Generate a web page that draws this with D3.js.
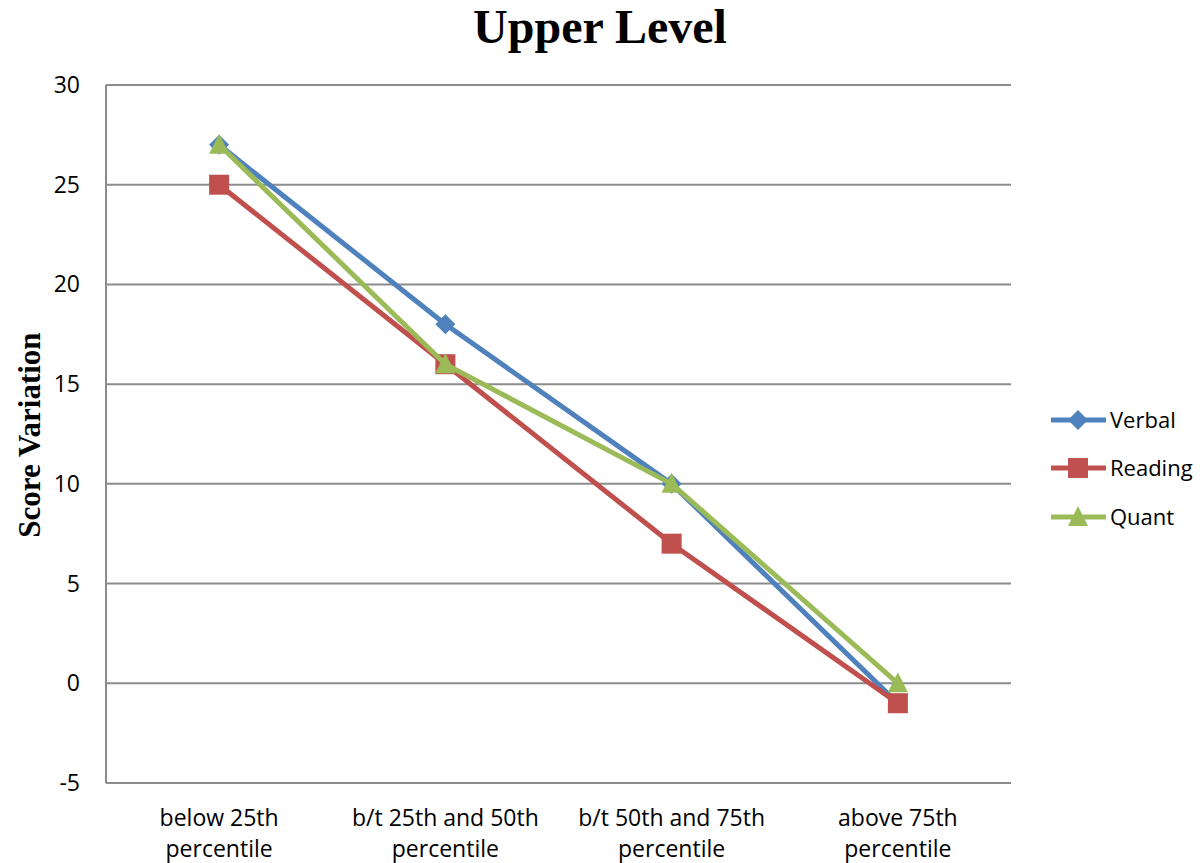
<!DOCTYPE html>
<html><head><meta charset="utf-8">
<script src="https://cdn.jsdelivr.net/npm/d3@7"></script>
<style>body{margin:0;background:#fff}svg{display:block}</style>
</head><body><svg id="c" width="1201" height="863"></svg>
<script>
const categories = [["below 25th","percentile"],["b/t 25th and 50th","percentile"],["b/t 50th and 75th","percentile"],["above 75th","percentile"]];
const verbal = [27, 18, 10, -1];
const reading = [25, 16, 7, -1];
const quant = [27, 16, 10, 0];
const yTicks = [-5, 0, 5, 10, 15, 20, 25, 30];
const seriesNames = ["Verbal", "Reading", "Quant"];
const seriesColors = ["#4F81BD", "#C0504D", "#9BBB59"];
const seriesShapes = ["diamond", "square", "triangle"];
const seriesData = [verbal, reading, quant];

const svg = d3.select("#c");
const m = {l:106, r:1011, t:85, b:783};
const x = d3.scaleBand().domain(d3.range(categories.length)).range([m.l, m.r]);
const y = d3.scaleLinear().domain([-5, 30]).range([m.b, m.t]);
const font = "'Open Sans', 'DejaVu Sans', sans-serif";
const fs = 23;

// gridlines
svg.append("g").selectAll("line").data(yTicks).join("line")
  .attr("x1", m.l).attr("x2", m.r)
  .attr("y1", d => y(d)).attr("y2", d => y(d))
  .attr("stroke", "#8c8c8c").attr("stroke-width", 2);
// left axis line
svg.append("line").attr("x1", m.l).attr("x2", m.l).attr("y1", m.t).attr("y2", m.b)
  .attr("stroke", "#8c8c8c").attr("stroke-width", 2);

// y labels
svg.append("g").selectAll("text").data(yTicks).join("text")
  .attr("x", 80).attr("y", d => y(d) + 8).attr("text-anchor", "end")
  .attr("font-family", font).attr("font-size", fs).attr("fill", "#000")
  .text(d => d);

// x labels
const xl = svg.append("g").selectAll("text").data(categories).join("text")
  .attr("text-anchor", "middle").attr("font-family", font).attr("font-size", fs).attr("fill", "#000");
xl.each(function(d, i){
  const t = d3.select(this);
  d.forEach((s, j) => t.append("tspan").attr("x", x(i) + x.bandwidth()/2).attr("y", 826 + j*31).text(s));
});

// title
svg.append("text").attr("x", 600).attr("y", 43).attr("text-anchor", "middle")
  .attr("font-family", "'Liberation Serif', 'Times New Roman', serif").attr("font-weight", "bold")
  .attr("font-size", 48).text("Upper Level");
// y title
svg.append("text").attr("transform", "translate(40,435) rotate(-90)").attr("text-anchor", "middle")
  .attr("font-family", "'Liberation Serif', 'Times New Roman', serif").attr("font-weight", "bold")
  .attr("font-size", 31).text("Score Variation");

function marker(g, shape, cx, cy, color){
  if (shape === "diamond") {
    g.append("path").attr("d", `M${cx},${cy-10}L${cx+10},${cy}L${cx},${cy+10}L${cx-10},${cy}Z`).attr("fill", color);
  } else if (shape === "square") {
    g.append("rect").attr("x", cx-10).attr("y", cy-10).attr("width", 20).attr("height", 20).attr("fill", color);
  } else {
    g.append("path").attr("d", `M${cx},${cy-11}L${cx+10},${cy+9}L${cx-10},${cy+9}Z`).attr("fill", color);
  }
}

const line = d3.line().x((d, i) => x(i) + x.bandwidth()/2).y(d => y(d));
seriesData.forEach((data, s) => {
  const g = svg.append("g");
  g.append("path").datum(data).attr("d", line).attr("fill", "none")
    .attr("stroke", seriesColors[s]).attr("stroke-width", 5).attr("stroke-linejoin", "round");
  data.forEach((v, i) => marker(g, seriesShapes[s], x(i) + x.bandwidth()/2, y(v), seriesColors[s]));
});

// legend
const legY = [420, 468, 517];
seriesNames.forEach((n, s) => {
  const g = svg.append("g");
  g.append("line").attr("x1", 1051).attr("x2", 1106).attr("y1", legY[s]).attr("y2", legY[s])
    .attr("stroke", seriesColors[s]).attr("stroke-width", 5);
  marker(g, seriesShapes[s], 1078, legY[s], seriesColors[s]);
  g.append("text").attr("x", 1110).attr("y", legY[s] + 8).attr("font-family", font)
    .attr("font-size", 22).attr("fill", "#000").text(n);
});
</script></body></html>
